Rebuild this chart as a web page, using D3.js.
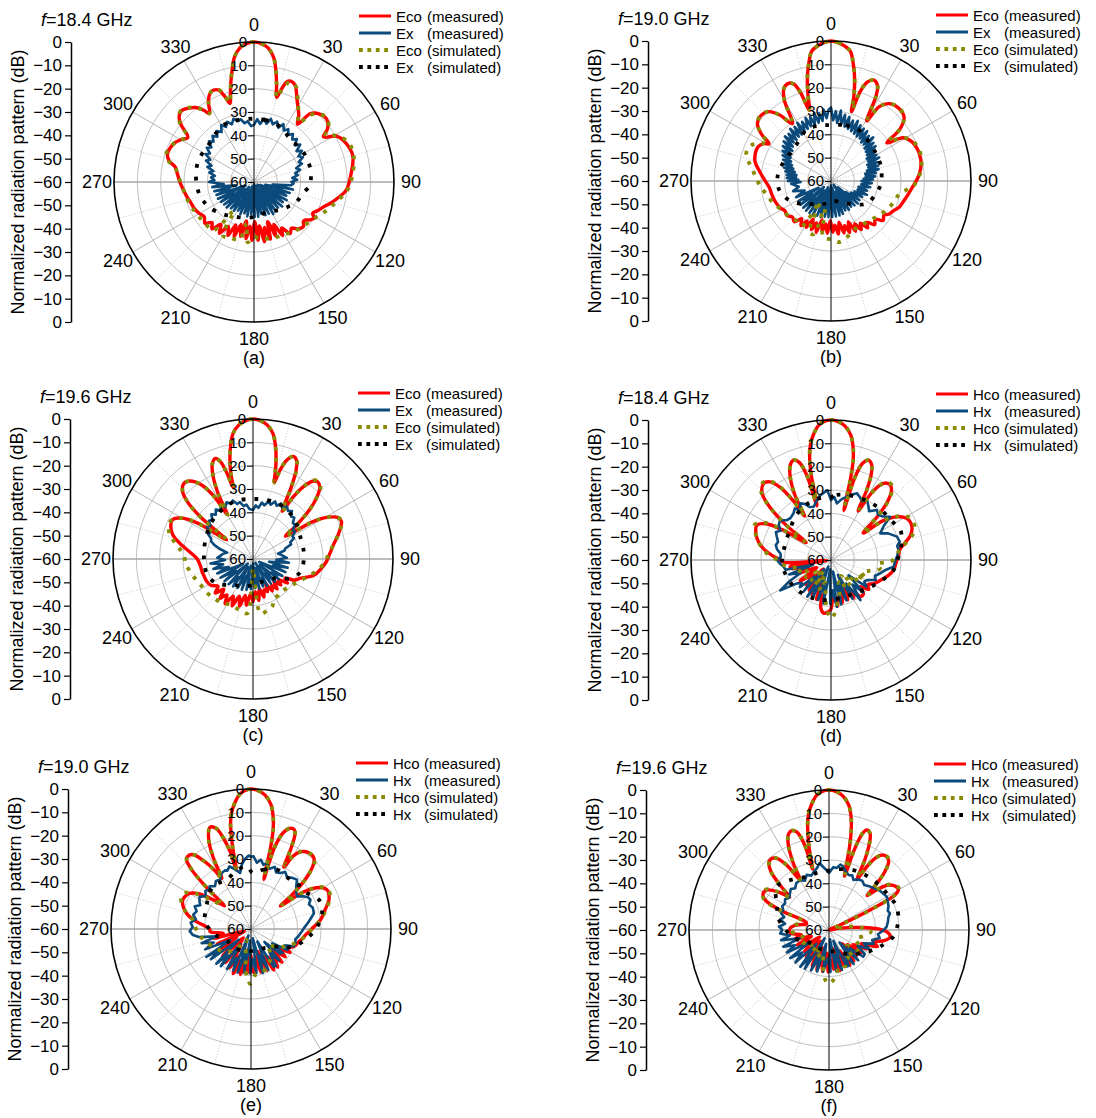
<!DOCTYPE html>
<html>
<head>
<meta charset="utf-8">
<script src="https://cdn.jsdelivr.net/npm/d3@7"></script>
<style>
body{margin:0;background:#fff;}
text{font-family:"Liberation Sans",Arial,sans-serif;fill:#000;}
</style>
</head>
<body>
<script>
// ---- data: [angle in degrees, level in dB] ----

// (a) f=18.4 GHz, E-plane
var aCoMeas = [[0,0],[3,-0.6],[6,-2.2],[9,-6],[11,-11],[13,-17],[15,-22.5],[16,-20],[18,-15],[20,-14],[23,-15],[28,-20.6],[34,-25.7],[37,-29],[39.5,-22],[44,-19.5],[49,-18.8],[54,-21],[57,-24.5],[61,-19.5],[66,-17.5],[75,-16.2],[85,-18.2],[95,-20.3],[100,-23],[105,-25.7],[110,-28.5],[114,-30],[118,-31.5],[121,-30],[124,-31],[128,-33],[132,-31.5],[137,-32.5],[141,-34.5],[145,-33],[149,-37],[152,-34],[155,-40],[158,-35],[161,-42],[164,-34.5],[167,-40],[170,-34],[173,-41],[176,-35],[179,-43],[182,-35],[185,-41],[188,-35.5],[191,-43],[194,-36],[197,-41],[200,-35],[203,-40],[206,-34.5],[210,-38],[214,-33.5],[218,-37],[222,-33],[226,-35],[230,-32.5],[235,-34],[240,-33],[246,-32],[252,-31.5],[258,-30.5],[264,-29.5],[270,-28.2],[276,-27],[281,-25.5],[284,-22.5],[288,-21],[292,-21.2],[296,-22],[300,-23.8],[304,-25.8],[308,-20.5],[311,-17.5],[314.5,-16.4],[318,-17.5],[322,-19.5],[325,-22.5],[327,-25],[330,-21],[333,-18],[336,-17],[339,-17.8],[341,-21],[343,-24.8],[345,-21],[347,-16],[349,-11],[351,-6],[354,-2.2],[357,-0.6]];
var aXMeas = [[0,-35.5],[3,-33],[6,-35],[9,-32.5],[12,-34.5],[15,-32],[18,-34],[21,-32.3],[24,-34.5],[27,-32.2],[30,-34.5],[33,-33],[36,-35],[39,-33.5],[42,-35.5],[45,-34],[48,-36.5],[51,-34.5],[54,-37.5],[57,-35.5],[60,-38],[63,-36.5],[66,-39],[69,-38],[72,-41],[75,-39.5],[78,-42],[81,-41],[84,-43.5],[87,-41.5],[90,-44],[92,-43],[95,-44],[98,-52],[101,-43],[104,-55],[107,-44],[110,-50],[113,-45],[116,-57],[119,-44],[122,-51],[125,-45],[128,-58],[131,-44],[134,-52],[137,-45],[140,-56],[143,-45],[146,-50],[149,-44],[152,-58],[155,-45],[158,-52],[161,-45],[164,-57],[167,-46],[170,-51],[173,-45],[176,-59],[179,-45],[182,-52],[185,-46],[188,-57],[191,-45],[194,-51],[197,-46],[200,-58],[203,-45],[206,-52],[209,-46],[212,-56],[215,-45],[218,-50],[221,-45],[224,-57],[227,-44],[230,-51],[233,-44],[236,-55],[239,-43.5],[242,-50],[245,-43],[248,-56],[251,-43],[254,-49],[257,-42.5],[260,-52],[263,-42],[266,-47],[270,-40.7],[273,-43],[276,-41.5],[279,-43],[282,-40.5],[285,-42],[288,-39],[291,-40.5],[294,-37.5],[297,-39],[300,-36],[303,-37.5],[306,-35],[309,-36.5],[312,-34],[315,-35.5],[318,-33.4],[321,-35],[324,-33],[327,-34.5],[330,-31.8],[333,-33.5],[336,-31.8],[339,-33.5],[342,-31.5],[345,-33],[348,-32.5],[351,-34.5],[354,-33.8],[357,-36]];
var aCoSim = [[0,0],[3,-0.6],[6,-2.2],[9,-6],[11,-11],[13,-17],[15,-22.5],[17,-18],[19,-15],[21,-14.3],[24,-15.5],[28,-20],[33,-25],[37,-28.5],[40,-22.5],[44,-19.5],[49,-18.5],[54,-20.5],[57,-23.5],[61,-19],[68,-16],[75,-15.8],[85,-17.5],[95,-19.8],[102,-23],[108,-25.5],[114,-27.5],[120,-29.5],[127,-31],[135,-32],[142,-33],[150,-34],[158,-34.5],[166,-35],[174,-35.5],[180,-36.5],[186,-34],[190,-42],[194,-34.5],[202,-34],[210,-33.5],[215,-45],[220,-33],[230,-32.5],[240,-32],[250,-31],[260,-30],[270,-28.5],[276,-27],[281,-25.5],[284,-22],[288,-20.5],[292,-21],[296,-22],[300,-23.8],[304,-25.5],[308,-20],[311,-17.2],[314.5,-16.2],[318,-17.2],[322,-19.5],[325,-22.5],[327,-25],[330,-21],[333,-18],[336,-16.8],[339,-17.5],[341,-20.5],[343,-24.5],[345,-21],[347,-16],[349,-11],[351,-6],[354,-2.2],[357,-0.6]];
var aXSim = [[0,-32.9],[10,-33],[20,-33.3],[30,-34.5],[37,-35.6],[45,-35.8],[52,-35.7],[60,-35.3],[66,-35.2],[74,-35.2],[81,-35.4],[88,-35.6],[94,-36],[102,-38.3],[110,-39.3],[117,-40.2],[125,-41.8],[134,-43.2],[146,-45],[159,-46],[170,-45.5],[180,-45],[188,-44.6],[200,-43.8],[212,-42.8],[220,-41.5],[228,-40.2],[240,-38],[248,-37],[257,-36],[270,-35.3],[280,-34.8],[290,-34.5],[300,-34.7],[311,-34.8],[322,-33.5],[334,-32.3],[346,-32.6]];

// (b) f=19.0 GHz, E-plane
var bCoMeas = [[0,0],[3,-0.6],[6,-2],[8.5,-3.8],[11,-9.5],[13,-15],[15,-22],[16.5,-29],[18,-20],[20,-15],[23,-13],[26,-14.5],[28,-19],[30.7,-30],[33,-22],[37,-18.5],[43,-17.4],[49,-18.5],[53,-23],[55.8,-31],[59,-24],[64,-21.5],[70,-20.5],[76,-20.4],[82,-21.2],[88,-22.8],[94,-24.9],[100,-26.5],[106,-27.8],[111,-28.7],[116,-30.5],[120,-31.5],[123,-33],[127,-32],[131,-35],[135,-33.5],[139,-36.5],[142,-34.5],[145,-38],[148,-35.5],[151,-39],[154,-36],[157,-41],[160,-36.5],[163,-40],[166,-37],[169,-42],[172,-37],[175,-41],[178,-38],[181,-43],[184,-37.5],[187,-41.5],[190,-38],[193,-43],[196,-37],[199,-41],[202,-37.5],[205,-42],[208,-37.5],[211,-40],[214,-37],[218,-39.5],[222,-36.5],[227,-37.4],[232,-36],[237,-36.5],[243,-35.3],[250,-34.5],[257,-34],[264,-33.4],[271,-31.5],[278,-29],[284,-26.5],[290,-25.5],[295,-25.5],[299,-27],[301,-29],[304,-24],[308,-20],[313,-18.9],[318,-20],[322,-24],[326,-30.4],[330,-20],[333,-15.5],[336.4,-14.3],[339,-15.5],[341,-20],[343,-28.3],[345,-22],[347,-15],[349,-9.5],[351.5,-3.8],[354,-2],[357,-0.6]];
var bXMeas = [[0,-28.5],[2,-34],[4,-30],[6,-35],[8,-29.5],[10,-35.5],[12,-31],[14,-36],[16,-31.4],[18,-36.5],[20,-32.5],[22,-37],[24,-31.8],[26,-37.5],[28,-33],[30,-38],[32,-33.5],[34,-38],[36,-33.6],[38,-39],[40,-34.8],[42,-39],[44,-34],[46,-40],[48,-35.5],[50,-40.5],[52,-35.8],[54,-41],[56,-37],[58,-42],[60,-37.5],[62,-42],[64,-37],[66,-43],[68,-38.5],[70,-43],[72,-38.7],[74,-44],[76,-39],[78,-45],[80,-40.5],[82,-45],[84,-41],[86,-46],[88,-42],[90,-47],[93,-42.5],[96,-47],[99,-43],[102,-48],[105,-44],[108,-48],[111,-43.5],[114,-49],[117,-45],[120,-50],[124,-45.3],[127,-52],[130,-45],[133,-56],[136,-45.5],[139,-50],[142,-46],[145,-58],[148,-45.5],[151,-51],[154,-46],[157,-55],[160,-45],[163,-50],[166,-44.8],[169,-57],[172,-44.6],[175,-52],[178,-44.6],[181,-58],[184,-44.5],[187,-51],[190,-44.5],[193,-56],[196,-44],[199,-50],[202,-44],[205,-57],[208,-43.5],[211,-51],[214,-43.5],[217,-55],[220,-43.4],[223,-50],[226,-43.5],[229,-56],[232,-43.5],[235,-50],[238,-43.5],[241,-54],[245,-43.5],[250,-48],[255,-43.2],[260,-46],[266,-42.9],[268,-47],[270,-41.5],[272,-46],[274,-41],[276,-45],[278,-40.8],[280,-45],[282,-40],[284,-44],[286,-39],[288,-43],[290,-38.5],[292,-42],[294,-37.5],[296,-41],[298,-36.5],[300,-40],[302,-35.5],[304,-39.5],[306,-34.5],[308,-39],[310,-33.5],[312,-38],[314,-32.5],[316,-37],[318,-32.8],[320,-37],[322,-31.6],[324,-36.5],[326,-32],[328,-36.5],[330,-31.2],[332,-36],[334,-31.8],[336,-35.5],[338,-30.8],[340,-35],[342,-31],[344,-35],[346,-30],[348,-34.5],[350,-30.5],[352,-34],[354,-29.2],[356,-33],[358,-29.5]];
var bCoSim = [[0,0],[3,-0.6],[6,-2],[8.5,-3.8],[11,-9.5],[13,-15],[15,-22],[16.5,-28],[18,-20],[20,-15],[23,-13],[26,-14.5],[28,-19],[30.7,-29],[33,-22],[37,-18.5],[43,-17.2],[49,-18.5],[53,-23],[55.8,-30],[59,-24],[64,-21],[70,-20],[76,-20],[82,-21],[88,-22.5],[94,-25],[100,-30],[108,-31.5],[118,-33.3],[127,-35],[136,-36.4],[146,-37],[156,-36.9],[164,-35],[172,-33.6],[180,-35],[188,-35.7],[193,-48],[198,-36],[203,-36.3],[208,-50],[213,-37],[222,-37.4],[230,-36.5],[239,-35.7],[249,-33.5],[259,-31.6],[266,-29.5],[273,-27.8],[282,-24.3],[287,-22],[291,-21.7],[295,-23],[299,-26.5],[301,-28.5],[304,-24],[308,-20],[313,-18.7],[318,-20],[322,-24],[326,-30],[330,-20],[333,-15.5],[336.4,-14.3],[339,-15.5],[341,-20],[343,-28],[345,-22],[347,-15],[349,-9.5],[351.5,-3.8],[354,-2],[357,-0.6]];
var bXSim = [[0,-36.1],[15,-35.3],[29,-35.1],[48,-37],[62,-37.5],[74,-37.7],[93,-38.6],[106,-40],[123,-42.1],[141,-47.5],[160,-50.5],[175,-51.7],[195,-50],[213,-48.3],[231,-44.4],[245,-40.3],[260,-37.5],[274,-37],[290,-38],[306,-38.9],[322,-37.9],[334,-35.7],[348,-35.6]];

// (c) f=19.6 GHz, E-plane
var cCoMeas = [[0,0],[3,-0.6],[6,-2.2],[9,-5.5],[11,-10],[13,-16],[14.5,-22],[15.5,-26],[17,-20],[19,-15],[21.8,-12.7],[24,-14],[26,-18],[28,-25],[30,-33],[31.5,-36],[33,-28],[35,-22],[37.5,-18],[40,-16.9],[43,-18],[46,-22],[49,-28],[52,-36],[55,-43],[58,-30],[61,-23],[64,-19.5],[67,-18.8],[70,-20],[75,-22.5],[80,-25],[86,-27],[92,-28.5],[98,-30.5],[105,-33],[112,-38],[117,-40],[121,-44],[125,-42],[129,-46],[133,-43.7],[137,-47],[141,-43.5],[145,-46],[149,-44],[153,-48],[156,-44.7],[160,-46],[164,-43],[168,-47],[172,-42],[176,-46],[180,-41.7],[184,-45],[188,-40],[192,-44],[196,-39],[200,-43],[204,-38],[208,-42],[212,-37.4],[216,-41],[220,-38],[224,-42],[228,-38.2],[232,-41],[238,-38.7],[244,-38],[250,-37.8],[256,-37.5],[262,-37.3],[270,-36.1],[276,-33],[282,-28],[287,-24],[292,-22],[296,-21.6],[300,-25],[303,-32],[306,-46],[308.5,-32],[311,-23],[314,-18],[317.6,-16.1],[321,-17],[325,-21],[328,-28],[330,-38],[332,-28],[334.5,-20],[337,-15.5],[339.6,-14],[341.5,-16],[343,-21],[344.5,-28],[345.5,-22],[347,-16],[349,-10],[351,-5.5],[354,-2.2],[357,-0.6]];
var cXMeas = [[0,-39],[3,-37],[6,-38],[9,-35.5],[12,-36.5],[15,-34.5],[18,-35.5],[21,-33.6],[24,-35],[27,-33.3],[30,-34.8],[33,-33.2],[36,-34.5],[39,-33.5],[42,-35.5],[45,-35],[48,-37],[51,-36.8],[54,-39],[57,-38.5],[60,-40.5],[63,-40.3],[66,-42.5],[69,-42.5],[72,-45.5],[75,-46],[78,-49],[81,-48],[84,-47],[88,-45.5],[92,-50],[96,-44.5],[100,-53],[104,-44.7],[108,-51],[112,-45],[116,-57],[120,-45.5],[124,-50],[128,-46],[132,-56],[136,-46.5],[140,-52],[144,-47],[148,-58],[152,-47],[156,-51],[160,-47.5],[164,-56],[168,-47],[172,-52],[176,-47.5],[180,-58],[184,-47],[188,-51],[192,-46.5],[196,-57],[200,-46],[204,-52],[208,-46],[212,-56],[216,-45.5],[220,-50],[224,-45],[228,-57],[232,-44.5],[236,-51],[240,-44],[244,-55],[248,-43.5],[252,-49],[256,-42.5],[260,-47],[264,-41.7],[268,-48],[272,-44.7],[276,-46],[280,-47],[284,-48.6],[287,-45],[290,-42.3],[293,-40.5],[296,-40],[299,-38],[302,-38.5],[305,-36],[308,-36.8],[311,-35],[314,-35.8],[317,-33.8],[320,-35.2],[323,-33.5],[326,-35],[329,-33.2],[332,-34.8],[335,-33.2],[338,-34.5],[341,-33.5],[344,-35.5],[347,-35],[350,-37],[353,-36.5],[356,-38.5]];
var cCoSim = [[0,0],[3,-0.6],[6,-2.2],[9,-5.5],[11,-10],[13,-16],[14.5,-22],[15.5,-26],[17,-20],[19,-15],[21.8,-12.5],[24,-13.8],[26,-17.5],[28,-25],[30,-33],[31.5,-36],[33,-28],[35,-22],[37.5,-17.5],[40,-16.5],[43,-17.5],[46,-22],[49,-28],[52,-36],[55,-43],[58,-30],[61,-23],[64,-19.5],[67,-18.5],[70,-19.8],[75,-22.5],[80,-25],[86,-27.5],[92,-29],[100,-32],[108,-35.5],[116,-38],[124,-40],[132,-41],[140,-41.5],[146,-41],[152,-40.9],[158,-38],[165,-37],[172,-36.4],[176,-50],[180,-56],[183,-45],[186,-36.6],[196,-37.5],[206,-38.1],[215,-37],[224.8,-36.3],[234,-35.5],[243.6,-35],[250,-34],[258,-32.7],[266,-31],[273,-30.4],[280,-27],[286,-23],[290,-21.5],[293,-21],[296,-21.5],[300,-25],[303,-32],[306,-46],[308.5,-32],[311,-23],[314,-18],[317.6,-16],[321,-17],[325,-21],[328,-28],[330,-38],[332,-28],[334.5,-20],[337,-15.5],[339.6,-14],[341.5,-16],[343,-21],[344.5,-28],[345.5,-22],[347,-16],[349,-10],[351,-5.5],[354,-2.2],[357,-0.6]];
var cXSim = [[0,-34.3],[13.7,-34],[27,-34],[45,-35.3],[66.5,-37.7],[85.5,-38.1],[105,-38.9],[117,-41.9],[132.6,-47.8],[155,-49.5],[180,-48.9],[200,-47.5],[216,-46.2],[235.7,-41.4],[251,-39.3],[270,-39],[294,-37.9],[316,-35.9],[342,-34.1]];

// (d) f=18.4 GHz, H-plane
var dCoMeas = [[0,0],[3,-0.6],[6,-2.3],[9,-5.8],[11,-10.5],[12.5,-16],[13.5,-24],[14.5,-38],[16,-24],[18,-16.5],[20.6,-14.3],[23,-15.5],[25,-19],[27,-26],[29,-36],[31,-27],[33,-22],[35.5,-19.5],[38.4,-19],[41,-20.5],[44,-25],[47,-33],[50,-42],[53,-32],[57,-26],[61,-23],[65,-22.3],[69,-22.8],[73,-24.5],[77,-27.5],[81,-30],[86,-31],[92,-32],[99,-32.8],[105,-34.5],[112,-37],[119,-39.1],[124,-41],[128,-39.5],[132,-43],[136,-40],[141,-39.9],[145,-44],[149,-41],[153,-47],[157,-41.5],[161,-45],[165,-41],[168,-44],[172,-40],[176,-46],[180,-39],[184,-37.5],[188,-37],[192,-39],[196,-45],[200,-42],[204,-49],[208,-43],[212,-52],[216,-44],[220,-55],[225,-45],[230,-50],[236,-44],[242,-53],[248,-44],[254,-50],[258,-42.8],[261,-42.3],[264,-58],[267,-40],[270,-38.3],[274,-35],[279,-31],[284,-28],[289,-26],[295,-24.9],[299,-28],[302,-36],[305,-47],[308,-35],[311,-25],[314,-19],[318.7,-16.3],[322,-17.5],[325,-22],[327.5,-30],[329,-38],[331,-28],[334,-20],[337,-15.5],[339.5,-14.3],[342,-16],[344,-22],[345.5,-36],[347,-22],[348.5,-14],[350,-9.5],[352,-5.8],[354.5,-2.3],[357,-0.6]];
var dXMeas = [[0,-34.3],[3,-33],[6,-35.6],[10,-33.5],[14,-32],[18,-30.5],[21.3,-29.3],[25,-30.5],[28,-31.5],[31,-30],[35,-32],[38,-33.5],[42.6,-30.9],[46,-32],[50,-31],[53.9,-28.6],[57,-33],[61.6,-36],[65,-33],[70.5,-30],[75,-29.5],[78,-31],[81.6,-30.7],[86,-31.5],[91,-32.5],[96,-33],[100,-36],[105,-38.1],[110,-40],[114,-39],[119,-42.3],[123,-43],[127,-41],[131,-50],[135,-40.5],[139,-46],[143.7,-38.7],[147,-48],[151,-41],[155,-53],[159,-41.5],[163,-49],[167,-40.5],[170,-55],[173,-39.8],[177,-47],[181,-41],[185,-56],[190,-41.1],[194,-50],[198,-42],[202,-57],[206,-41.5],[210,-48],[213,-41.3],[217,-55],[221,-42],[225,-50],[229,-42.3],[232,-44],[235.5,-42.3],[239,-34.7],[243,-40],[247,-46],[251,-41],[255,-52],[258,-40],[262,-39.5],[266,-38],[270,-36.9],[274,-38.5],[277.5,-38.1],[281,-36.5],[285,-35.5],[289,-36],[293,-34.8],[297,-33.5],[300,-35],[304,-33],[308,-32.3],[312,-34.5],[316,-35],[321,-34.4],[325,-33],[328,-35],[331.6,-32.4],[335,-33.5],[338,-35.5],[342,-36],[346,-34],[350,-32],[354,-31],[357,-30]];
var dCoSim = [[0,0],[3,-0.6],[6,-2.3],[9,-5.8],[11,-10.5],[12.5,-16],[13.5,-24],[14.5,-36],[16,-24],[18,-16.5],[20.6,-14.3],[23,-15.5],[25,-19],[27,-26],[29,-35],[31,-27],[33,-22],[35.5,-19],[38.4,-18.5],[41,-20],[44,-24.5],[47,-33],[50,-42],[53,-32],[57,-25.5],[61,-22],[65,-21.2],[69,-21.5],[73,-23.5],[77,-27],[81,-30],[86,-32],[91,-34],[95,-40],[100,-38.7],[106,-43],[112,-46],[118,-43],[124,-48],[130,-45],[136,-51],[142,-46],[148,-52],[154,-47],[160,-50],[166,-45],[171,-42],[176,-37],[180,-35],[184,-38],[188,-43],[194,-50],[200,-46],[206,-53],[212,-47],[218,-55],[224,-48],[230,-52],[236,-47],[242,-50],[248,-45],[254,-47],[260,-42],[265,-39],[270,-37],[275,-33],[280,-30],[285,-27.5],[290,-25.5],[295,-24],[299,-27],[302,-35],[305,-46],[308,-35],[311,-25],[314,-18.5],[318.7,-15.8],[322,-17],[325,-21.5],[327.5,-30],[329,-38],[331,-28],[334,-20],[337,-15.5],[339.5,-14.2],[342,-16],[344,-22],[345.5,-34],[347,-22],[348.5,-14],[350,-9.5],[352,-5.8],[354.5,-2.3],[357,-0.6]];
var dXSim = [[0,-33],[5,-32],[15,-31.3],[25,-30.7],[33,-30.2],[41,-29.8],[48,-29.5],[56,-29.3],[61,-28.5],[66.6,-27.6],[74,-28.5],[81.8,-30],[90,-31.5],[99,-32.8],[108,-35.5],[117,-37.9],[130,-40.5],[145.8,-42.7],[160,-43],[181,-42.9],[192,-42.5],[204,-42],[216,-41.5],[228.6,-40.6],[244,-40],[258,-39.3],[270,-39],[282,-39.3],[294,-39],[306,-38.3],[317,-36.5],[328,-34.9],[336,-34],[344,-33.3],[352,-33]];

// (e) f=19.0 GHz, H-plane
var eCoMeas = [[0,0],[3,-0.6],[6,-2.3],[9,-5.8],[11,-10.5],[12.5,-16],[13.5,-24],[14.5,-38],[16,-24],[18.5,-16.5],[21,-13.8],[23.5,-13.5],[25,-15.5],[26.5,-22],[28,-30],[30,-24],[33,-20.5],[37,-19],[41.4,-19.3],[44,-21.5],[47,-27],[50,-36],[52,-44],[55,-32],[59,-25.5],[63,-23.3],[66,-23.5],[69.4,-24.3],[75,-27],[82.6,-30],[88,-33],[94.5,-35.9],[100,-37.5],[106,-39],[112.6,-40.2],[117,-43],[121,-40.5],[125,-45],[129,-41],[133,-47],[137,-40.5],[141,-44],[145,-40],[149,-46],[151,-39.9],[155,-47],[159,-41],[163,-50],[167,-41],[171,-48],[174,-41.5],[177,-41.6],[181,-49],[185,-41],[189,-51],[193,-40],[197,-46],[201.7,-39.4],[205,-47],[209,-41],[213,-52],[217,-42],[221,-55],[226,-43],[231,-50],[236,-44],[241,-53],[246,-44],[251,-57],[256,-43.5],[261,-48],[266,-42.5],[270,-42.3],[274,-40],[278,-36],[283,-32],[288,-29.5],[293,-28.2],[297,-28.6],[300,-29.5],[304,-33],[308,-40],[311,-45],[313,-34],[315,-24],[317,-19.5],[319,-18.7],[322,-19.5],[325,-24],[328,-30],[330,-35],[332,-26],[334.5,-18],[338,-13],[341,-14.5],[343,-19],[345,-26],[346,-34],[347.5,-23],[349,-14],[350.5,-9.5],[352.5,-5.8],[355,-2.3],[357.5,-0.6]];
var eXMeas = [[0,-29],[2,-28.8],[5,-31.5],[8,-30],[11,-32],[13.4,-30.8],[17,-33],[21,-31.5],[24,-33.5],[27.5,-32.9],[31,-31.5],[35,-33],[39,-31.8],[43,-31.1],[47,-33.5],[51,-35],[54.7,-35.8],[58,-33.5],[61,-32],[63.8,-31.6],[67,-33],[71,-32],[76,-32.2],[80,-34],[84,-35.5],[88,-37],[92,-38],[95,-38.7],[99,-39.5],[103,-40.5],[108,-40],[112,-40.2],[116,-44],[120,-42],[124,-49],[127,-43],[130,-43.6],[134,-52],[138,-42],[142,-47],[146,-41],[149,-41.1],[153,-54],[157,-41],[161,-48],[165,-40.5],[169,-56],[173,-41],[177,-47],[181,-40.9],[185,-55],[189,-41],[193,-49],[197,-40.5],[201,-57],[203,-40.7],[207,-46],[211,-40],[215,-52],[219,-39.5],[222,-45],[225,-39],[229,-53],[233,-38.5],[236,-44],[238,-37.4],[242,-50],[246,-38.5],[250,-43],[254,-38],[258,-45],[261,-37.7],[264,-35],[268,-33.7],[272,-35],[276,-34],[280,-36],[284,-34.5],[288,-35.5],[292,-34],[295,-36],[298,-35],[302,-34],[306,-36],[310,-34.5],[313,-35.5],[316,-34.5],[320,-36],[324,-34.5],[328,-35],[332,-33],[336,-32.5],[338,-33],[341,-31.6],[345,-33.5],[349,-35.5],[352,-32],[355,-30],[358,-28.5]];
var eCoSim = [[0,0],[3,-0.6],[6,-2.3],[9,-5.8],[11,-10.5],[12.5,-16],[13.5,-24],[14.5,-36],[16,-24],[18.5,-16.5],[21,-13.8],[23.5,-13.5],[25,-15.5],[26.5,-22],[28,-29],[30,-24],[33,-20.5],[37,-19],[41.4,-19],[44,-21],[47,-27],[50,-36],[52,-43],[55,-32],[59,-25],[63,-23],[66,-23],[69.4,-24],[75,-26.5],[82.6,-30],[88,-33],[94.5,-35.5],[102,-38],[110,-41],[118,-44],[126,-47],[134,-50],[142,-46],[150,-44],[158,-42],[166,-41],[174,-40.5],[178,-38],[181,-36.5],[184,-39],[186,-40.7],[190,-47],[196,-52],[204,-55],[212,-52],[220,-48],[230,-45],[240,-43],[250,-41],[260,-38.5],[270,-36.5],[279,-34.8],[285,-31],[290,-28.5],[295,-27],[299,-28],[302,-31],[306,-38],[310,-44],[313,-34],[315,-24],[317,-19.5],[319,-18.5],[322,-19.5],[325,-24],[328,-30],[330,-35],[332,-26],[334.5,-18],[338,-13],[341,-14.5],[343,-19],[345,-26],[346,-33],[347.5,-23],[349,-14],[350.5,-9.5],[352.5,-5.8],[355,-2.3],[357.5,-0.6]];
var eXSim = [[2,-36],[12,-34],[23.5,-32.2],[38.5,-33],[49,-32],[57,-31.5],[66.7,-28.3],[77.5,-28.8],[88,-31.6],[97.6,-35],[109,-39.1],[118,-43],[128,-47.8],[145,-50],[165,-50.6],[185,-50.5],[200,-50],[216,-49.6],[232,-49],[246,-48.5],[262,-44],[280,-40],[297,-38.6],[308,-37],[318,-35.5],[326,-36],[334,-36.4],[345,-34.5],[356,-33]];

// (f) f=19.6 GHz, H-plane
var fCoMeas = [[0,0],[3,-0.6],[6,-2.3],[9,-5.8],[11,-10.5],[12.5,-16],[14,-24],[16,-36],[17.5,-24],[19,-16.5],[20.6,-14.2],[23,-15],[25,-19],[27,-26],[29,-35],[31,-28],[33,-23],[35.5,-20.5],[38,-20],[41,-21],[44,-26],[46,-32],[48,-38],[50,-33],[53,-28],[57,-25.8],[60,-25.7],[62,-28],[64,-40],[66,-55],[70,-60],[80,-56],[86,-45],[90,-37],[94,-34],[97,-33.7],[101,-36],[105,-40],[109,-38],[113,-45],[117,-42],[121,-48],[125,-43],[129,-50],[133,-44],[137,-52],[141,-43],[145,-47],[149,-42.5],[153,-50],[157,-43],[161,-48],[165,-42],[169,-52],[173,-43],[177,-47],[181,-42],[185,-50],[189,-42],[193,-47],[197,-42],[201,-52],[205,-43],[209,-49],[213,-44],[217,-54],[221,-45],[225,-50],[229,-46],[233,-55],[237,-46],[241,-50],[245,-45],[250,-52],[255,-44.5],[260,-48],[265,-43.5],[270,-43],[275,-44],[280,-47],[285,-50],[289,-49.5],[292,-38],[295,-30],[299,-27.7],[303,-28.5],[307,-33],[310,-38],[312,-33],[315,-25],[318,-21.5],[321,-20.7],[324,-22],[327,-27],[330,-35],[332,-27],[334.5,-19.5],[337,-15.5],[339.6,-14.6],[342,-16],[344,-22],[345,-33],[346.5,-23],[348.5,-14],[350,-9.5],[352,-5.8],[354.5,-2.3],[357,-0.6]];
var fXMeas = [[0,-35.5],[4,-33],[7,-33.2],[10,-31.5],[12.7,-32.1],[16,-34],[20,-35],[23,-34.5],[26,-36.1],[30,-35],[34,-34.5],[38,-35.5],[43.4,-34.4],[48,-33.5],[52,-32.5],[56,-32],[60,-31.4],[64,-32],[68,-32.5],[72,-33.5],[74.7,-32.9],[78,-34],[82,-34.5],[87,-35.3],[91,-37],[95,-39],[99,-38],[103,-41],[107,-40],[111,-44],[115,-41],[119,-46],[124,-41.5],[128,-41.4],[132,-49],[136,-42],[140,-53],[144,-42],[148,-48],[151,-42.5],[154,-42.6],[158,-55],[162,-42],[166,-49],[170,-42],[174,-56],[178,-42],[182,-48],[188,-42],[192,-54],[196,-41.5],[200,-47],[204,-41],[208,-56],[212,-40.5],[215,-46],[218,-40],[222,-52],[226,-40],[230,-45],[234,-39.5],[238,-50],[242,-39.5],[246,-44],[250,-39.1],[254,-47],[258,-39],[262,-43],[266,-39],[270,-40],[274,-38.5],[278,-41],[282,-38.5],[286,-40],[290,-38],[293.6,-38.6],[297,-37.5],[301,-38],[305,-37],[309,-38],[313,-37.1],[317,-36],[321,-37],[325,-35.5],[330,-35.3],[334,-36.5],[338,-34.5],[342,-35.5],[346,-34],[349,-33],[352,-31.1],[355,-33],[358,-34.5]];
var fCoSim = [[0,0],[3,-0.6],[6,-2.3],[9,-5.8],[11,-10.5],[12.5,-16],[14,-24],[16,-35],[17.5,-24],[19,-16.5],[20.6,-14],[23,-15],[25,-19],[27,-26],[29,-34],[31,-28],[33,-23],[35.5,-20.3],[38,-19.8],[41,-21],[44,-26],[46,-32],[48,-37],[50,-33],[53,-27.5],[57,-25.3],[60,-25.3],[62,-28],[64,-40],[66,-55],[70,-58],[80,-52],[86,-46],[92,-42],[100,-45],[108,-48],[116,-46],[124,-44],[132,-50],[140,-44],[148,-46],[156,-43],[164,-44],[170,-41],[175,-38.5],[180,-37],[185,-39],[190,-45],[196,-50],[204,-47],[212,-52],[220,-48],[230,-50],[240,-47],[250,-50],[260,-46],[270,-44],[278,-45],[285,-48],[289,-48],[292,-37],[295,-29.5],[299,-27.3],[303,-28],[307,-33],[310,-38],[312,-33],[315,-25],[318,-21.5],[321,-20.5],[324,-22],[327,-27],[330,-35],[332,-27],[334.5,-19.5],[337,-15.5],[339.6,-14.5],[342,-16],[344,-22],[345,-32],[346.5,-23],[348.5,-14],[350,-9.5],[352,-5.8],[354.5,-2.3],[357,-0.6]];
var fXSim = [[0,-34.5],[10,-33.5],[22,-32.3],[32,-31.8],[41.6,-31.4],[50,-31],[57.5,-30.7],[64,-30],[71,-29.3],[81.8,-30],[89,-31],[96,-32.3],[108,-37],[118,-40.5],[127,-43.4],[138,-46],[148,-48.3],[165,-50.5],[180,-51],[196,-51.1],[212,-51],[230,-51.1],[245,-48],[260,-44],[275,-40],[284,-37.5],[295,-35.4],[309.6,-30.9],[322,-32.9],[337,-35.2],[348,-35]];

// labels and ticks
var panelLabels = ["(a)","(b)","(c)","(d)","(e)","(f)"];
var freqs = ["18.4","19.0","19.6","18.4","19.0","19.6"];
var eNames = ["Eco","Ex","Eco","Ex"];
var hNames = ["Hco","Hx","Hco","Hx"];
var legendKinds = ["(measured)","(measured)","(simulated)","(simulated)"];
var ringTicks = [-60,-50,-40,-30,-20,-10,0];
var angleTicks = [0,30,60,90,120,150,180,210,240,270,300,330];
var leftTicks = [0,-10,-20,-30,-40,-50,-60,-50,-40,-30,-20,-10,0];

var W = 1096, H = 1118, R = 140;
var FONT = "Liberation Sans, Arial, sans-serif";

var svg = d3.select("body").append("svg")
    .attr("width", W)
    .attr("height", H);

//panel table built from the arrays above
var pos = [[254,182],[831,181],[253,559],[831,560],[251,929],[829,930]];
var series = [
    [aCoMeas, aXMeas, aCoSim, aXSim],
    [bCoMeas, bXMeas, bCoSim, bXSim],
    [cCoMeas, cXMeas, cCoSim, cXSim],
    [dCoMeas, dXMeas, dCoSim, dXSim],
    [eCoMeas, eXMeas, eCoSim, eXSim],
    [fCoMeas, fXMeas, fCoSim, fXSim]
];
var panels = panelLabels.map(function(lab, i){
    return {label: lab, freq: freqs[i], names: i < 3 ? eNames : hNames,
            cx: pos[i][0], cy: pos[i][1], data: series[i]};
});

//line styles: Co measured, X measured, Co simulated, X simulated
var styles = [
    {color: "#ff0000", width: 3.4, dash: null},
    {color: "#0b4a7a", width: 2.6, dash: null},
    {color: "#8a8a00", width: 3.8, dash: "3.8,7"},
    {color: "#000000", width: 3.8, dash: "3.8,9"}
];

var r = d3.scaleLinear().domain([-60, 0]).range([0, R]).clamp(true);
var toRad = Math.PI / 180;

var smoothLine = d3.lineRadial()
    .angle(function(d){ return d[0] * toRad; })
    .radius(function(d){ return r(d[1]); })
    .curve(d3.curveCatmullRomClosed.alpha(0.5));
var rawLine = d3.lineRadial()
    .angle(function(d){ return d[0] * toRad; })
    .radius(function(d){ return r(d[1]); })
    .curve(d3.curveLinearClosed);

var spokeAngles = d3.range(0, 360, 15);

panels.forEach(function(p){
    var g = svg.append("g").attr("transform", "translate(" + p.cx + "," + p.cy + ")");

    //rings
    g.selectAll(".ring")
        .data(ringTicks.slice(1, -1))
        .enter()
        .append("circle")
        .attr("class", "ring")
        .attr("r", function(d){ return r(d); })
        .attr("fill", "none")
        .attr("stroke", "#c2c2c2")
        .attr("stroke-width", 1);

    //spokes every 15 deg, dotted between the 30 deg ones
    g.selectAll(".spoke")
        .data(spokeAngles.filter(function(a){ return a % 90 != 0; }))
        .enter()
        .append("line")
        .attr("class", "spoke")
        .attr("x1", 0).attr("y1", 0)
        .attr("x2", function(a){ return R * Math.sin(a * toRad); })
        .attr("y2", function(a){ return -R * Math.cos(a * toRad); })
        .attr("stroke", function(a){ return a % 30 == 0 ? "#b5b5b5" : "#d0d0d0"; })
        .attr("stroke-width", 1)
        .attr("stroke-dasharray", function(a){ return a % 30 == 0 ? null : "1.2,1.8"; });

    //horizontal 270-90 line
    g.append("line")
        .attr("x1", -R).attr("x2", R).attr("y1", 0).attr("y2", 0)
        .attr("stroke", "#a6a6a6")
        .attr("stroke-width", 1.6);

    //curves
    p.data.forEach(function(d, k){
        var st = styles[k];
        g.append("path")
            .datum(d)
            .attr("d", k == 1 ? rawLine : smoothLine)
            .attr("fill", "none")
            .attr("stroke", st.color)
            .attr("stroke-width", st.width)
            .attr("stroke-linejoin", "round")
            .attr("stroke-dasharray", st.dash);
    });

    //outer circle
    g.append("circle")
        .attr("r", R)
        .attr("fill", "none")
        .attr("stroke", "#000")
        .attr("stroke-width", 1.6);

    //vertical radial axis 0-180
    g.append("line")
        .attr("x1", 0).attr("x2", 0).attr("y1", -R).attr("y2", R)
        .attr("stroke", "#000")
        .attr("stroke-width", 1);

    //radial tick labels on the 0 deg spoke
    var yr = d3.scaleLinear().domain([-60, 0]).range([0, -R]);
    var ra = g.append("g")
        .call(d3.axisLeft(yr).tickValues(ringTicks).tickSize(6).tickPadding(1)
            .tickFormat(function(d){ return Math.abs(d); }))
        .attr("font-size", 15)
        .attr("font-family", FONT);
    ra.select(".domain").remove();

    //angle labels
    g.selectAll(".ang")
        .data(angleTicks)
        .enter()
        .append("text")
        .attr("class", "ang")
        .attr("x", function(a){ return 157 * Math.sin(a * toRad); })
        .attr("y", function(a){ return -157 * Math.cos(a * toRad); })
        .attr("dy", "0.36em")
        .attr("text-anchor", "middle")
        .attr("font-size", 18)
        .text(function(a){ return a; });

    //left linear axis
    var ly = d3.scalePoint().domain(d3.range(leftTicks.length)).range([-R, R]);
    var la = g.append("g")
        .attr("transform", "translate(-183,0)")
        .call(d3.axisLeft(ly).tickSize(6).tickSizeOuter(0).tickPadding(3)
            .tickFormat(function(i){ return d3.format("d")(leftTicks[i]); }))
        .attr("font-size", 17)
        .attr("font-family", FONT);
    la.select(".domain").attr("stroke-width", 1.5);
    la.selectAll(".tick line").attr("stroke-width", 1.2);

    //axis title
    g.append("text")
        .attr("transform", "translate(-236,0) rotate(-90)")
        .attr("dy", "0.36em")
        .attr("text-anchor", "middle")
        .attr("font-size", 18)
        .text("Normalized radiation pattern (dB)");

    //frequency
    var t = g.append("text")
        .attr("x", -213)
        .attr("y", -156)
        .attr("font-size", 18);
    t.append("tspan").attr("font-style", "italic").text("f");
    t.append("tspan").text("=" + p.freq + " GHz");

    //panel label
    g.append("text")
        .attr("x", 0)
        .attr("y", 182)
        .attr("text-anchor", "middle")
        .attr("font-size", 18)
        .text(p.label);

    //legend
    var lg = g.append("g").attr("transform", "translate(105,-166)");
    styles.forEach(function(st, k){
        var y = k * 17;
        lg.append("line")
            .attr("x1", 0).attr("x2", 32).attr("y1", y).attr("y2", y)
            .attr("stroke", st.color)
            .attr("stroke-width", k < 2 ? 3 : 3.8)
            .attr("stroke-dasharray", k < 2 ? null : "3.8,4.6");
        lg.append("text")
            .attr("x", 37).attr("y", y + 5.5)
            .attr("font-size", 15)
            .text(p.names[k]);
        lg.append("text")
            .attr("x", 68).attr("y", y + 5.5)
            .attr("font-size", 15)
            .text(legendKinds[k]);
    });
});
</script>
</body>
</html>
